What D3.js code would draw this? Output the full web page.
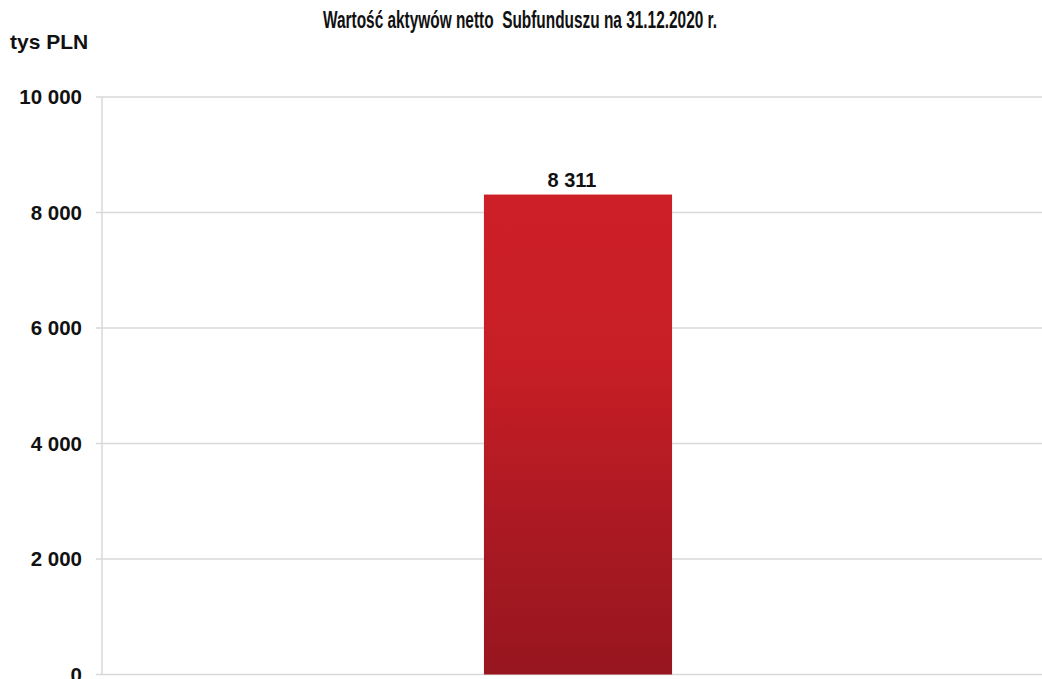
<!DOCTYPE html>
<html>
<head>
<meta charset="utf-8">
<script src="https://cdn.jsdelivr.net/npm/d3@7"></script>
<style>
  html, body { margin: 0; padding: 0; background: #fff; }
  svg { display: block; }
  text { font-family: "Liberation Sans", Arial, sans-serif; font-weight: bold; fill: #111; }
</style>
</head>
<body>
<svg id="chart"></svg>
<script>
const categories = ['31.12.2020'];
const values = [8311];
const tickValues = [0, 2000, 4000, 6000, 8000, 10000];
const titleText = 'Wartość aktywów netto  Subfunduszu na 31.12.2020 r.';
const unitLabel = 'tys PLN';

const width = 1042, height = 679;
const margin = { top: 97, right: -12, bottom: 4, left: 102 };

const svg = d3.select('#chart')
  .attr('width', width)
  .attr('height', height);

const fmt = v => d3.format(',')(v).replace(/,/g, ' ');

const x = d3.scaleBand()
  .domain(categories)
  .range([margin.left, width - margin.right])
  .padding(0.67);

const y = d3.scaleLinear()
  .domain([0, 10000])
  .range([height - margin.bottom - 0.5, margin.top]);

const defs = svg.append('defs');
const grad = defs.append('linearGradient')
  .attr('id', 'barGrad')
  .attr('x1', 0).attr('y1', 0)
  .attr('x2', 0).attr('y2', 1);
grad.append('stop').attr('offset', '0%').attr('stop-color', '#cd1f27');
grad.append('stop').attr('offset', '35%').attr('stop-color', '#c71e26');
grad.append('stop').attr('offset', '70%').attr('stop-color', '#aa1922');
grad.append('stop').attr('offset', '100%').attr('stop-color', '#97161f');

// gridlines + tick marks
svg.append('g')
  .selectAll('line')
  .data(tickValues)
  .enter()
  .append('line')
  .attr('x1', margin.left - 6)
  .attr('x2', width)
  .attr('y1', d => y(d))
  .attr('y2', d => y(d))
  .attr('stroke', '#d9d9d9')
  .attr('stroke-width', 1.5);

// y axis line
svg.append('line')
  .attr('x1', margin.left)
  .attr('x2', margin.left)
  .attr('y1', y(10000))
  .attr('y2', y(0))
  .attr('stroke', '#d9d9d9')
  .attr('stroke-width', 1.5);

// tick labels
svg.append('g')
  .selectAll('text')
  .data(tickValues)
  .enter()
  .append('text')
  .attr('x', 82)
  .attr('y', d => y(d))
  .attr('dy', '0.35em')
  .attr('text-anchor', 'end')
  .style('font-size', '20.5px')
  .text(d => fmt(d));

// bar
svg.append('g')
  .selectAll('rect')
  .data(values)
  .enter()
  .append('rect')
  .attr('x', (d, i) => x(categories[i]))
  .attr('width', x.bandwidth())
  .attr('y', d => y(d))
  .attr('height', d => y(0) - y(d))
  .attr('fill', 'url(#barGrad)');

// value label
svg.append('g')
  .selectAll('text')
  .data(values)
  .enter()
  .append('text')
  .attr('x', (d, i) => x(categories[i]) + x.bandwidth() / 2 - 6)
  .attr('y', d => y(d) - 8)
  .attr('text-anchor', 'middle')
  .style('font-size', '20px')
  .text(d => fmt(d));

// unit label
svg.append('text')
  .attr('x', 10)
  .attr('y', 49)
  .style('font-size', '21px')
  .text(unitLabel);

// title
svg.append('text')
  .attr('x', 323)
  .attr('y', 28)
  .attr('textLength', 394)
  .attr('lengthAdjust', 'spacingAndGlyphs')
  .style('font-family', '"Liberation Sans Narrow", "Liberation Sans", Arial, sans-serif')
  .style('font-size', '23px')
  .style('white-space', 'pre')
  .text(titleText);
</script>
</body>
</html>
